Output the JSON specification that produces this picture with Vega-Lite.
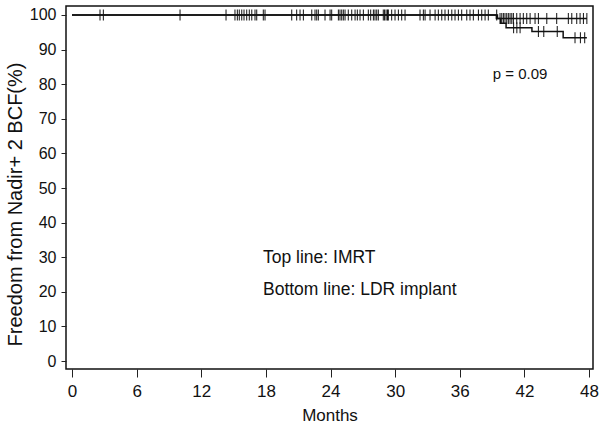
{
  "$schema": "https://vega.github.io/schema/vega-lite/v6.json",
  "width": 527,
  "height": 363,
  "autosize": {"type": "none"},
  "padding": {"left": 66, "top": 6, "right": 8, "bottom": 64},
  "background": "white",
  "config": {
    "view": {"stroke": "#111", "strokeWidth": 1.5},
    "font": "Liberation Sans",
    "axis": {"grid": false, "domain": false, "tickColor": "#222", "labelColor": "#111", "titleColor": "#111", "labelFont": "Liberation Sans", "titleFont": "Liberation Sans", "titleFontWeight": "normal", "labelOverlap": false}
  },
  "datasets": {
    "lines": [
      {"month": 0, "surv": 100, "group": "IMRT"},
      {"month": 39.5, "surv": 99.0, "group": "IMRT"},
      {"month": 47.8, "surv": 99.0, "group": "IMRT"},
      {"month": 0, "surv": 100, "group": "LDR implant"},
      {"month": 39.4, "surv": 99.0, "group": "LDR implant"},
      {"month": 39.8, "surv": 97.6, "group": "LDR implant"},
      {"month": 40.3, "surv": 96.3, "group": "LDR implant"},
      {"month": 42.7, "surv": 95.2, "group": "LDR implant"},
      {"month": 45.6, "surv": 93.4, "group": "LDR implant"},
      {"month": 47.8, "surv": 93.4, "group": "LDR implant"}
    ],
    "censor": [
      {"month": 2.60, "surv": 100}, {"month": 2.91, "surv": 100}, {"month": 10.03, "surv": 100}, {"month": 14.30, "surv": 100},
      {"month": 15.13, "surv": 100}, {"month": 15.35, "surv": 100}, {"month": 15.53, "surv": 100}, {"month": 15.76, "surv": 100},
      {"month": 15.97, "surv": 100}, {"month": 16.22, "surv": 100}, {"month": 16.46, "surv": 100}, {"month": 16.69, "surv": 100},
      {"month": 16.99, "surv": 100}, {"month": 17.15, "surv": 100}, {"month": 17.76, "surv": 100}, {"month": 17.92, "surv": 100},
      {"month": 20.40, "surv": 100}, {"month": 20.86, "surv": 100}, {"month": 21.17, "surv": 100}, {"month": 21.48, "surv": 100},
      {"month": 22.26, "surv": 100}, {"month": 22.56, "surv": 100}, {"month": 22.72, "surv": 100}, {"month": 22.87, "surv": 100},
      {"month": 23.49, "surv": 100}, {"month": 23.96, "surv": 100}, {"month": 24.11, "surv": 100}, {"month": 24.73, "surv": 100},
      {"month": 24.88, "surv": 100}, {"month": 25.04, "surv": 100}, {"month": 25.19, "surv": 100}, {"month": 25.35, "surv": 100},
      {"month": 25.65, "surv": 100}, {"month": 25.97, "surv": 100}, {"month": 26.28, "surv": 100}, {"month": 26.49, "surv": 100},
      {"month": 26.74, "surv": 100}, {"month": 27.05, "surv": 100}, {"month": 27.51, "surv": 100}, {"month": 27.73, "surv": 100},
      {"month": 27.98, "surv": 100}, {"month": 28.13, "surv": 100}, {"month": 28.29, "surv": 100}, {"month": 28.44, "surv": 100},
      {"month": 28.90, "surv": 100}, {"month": 29.02, "surv": 100}, {"month": 29.16, "surv": 100}, {"month": 29.29, "surv": 100},
      {"month": 29.37, "surv": 100}, {"month": 29.68, "surv": 100}, {"month": 29.99, "surv": 100}, {"month": 30.30, "surv": 100},
      {"month": 30.61, "surv": 100}, {"month": 30.92, "surv": 100}, {"month": 32.31, "surv": 100}, {"month": 32.62, "surv": 100},
      {"month": 32.78, "surv": 100}, {"month": 33.24, "surv": 100}, {"month": 33.71, "surv": 100}, {"month": 34.01, "surv": 100},
      {"month": 34.33, "surv": 100}, {"month": 34.63, "surv": 100}, {"month": 34.94, "surv": 100}, {"month": 35.26, "surv": 100},
      {"month": 35.56, "surv": 100}, {"month": 35.87, "surv": 100}, {"month": 36.18, "surv": 100}, {"month": 36.65, "surv": 100},
      {"month": 36.95, "surv": 100}, {"month": 37.26, "surv": 100}, {"month": 37.73, "surv": 100}, {"month": 38.04, "surv": 100},
      {"month": 38.35, "surv": 100}, {"month": 38.65, "surv": 100}, {"month": 39.43, "surv": 100},
      {"month": 39.74, "surv": 99.0}, {"month": 39.90, "surv": 99.0}, {"month": 40.05, "surv": 99.0}, {"month": 40.20, "surv": 99.0},
      {"month": 40.36, "surv": 99.0}, {"month": 40.51, "surv": 99.0}, {"month": 40.67, "surv": 99.0}, {"month": 40.83, "surv": 99.0},
      {"month": 40.98, "surv": 99.0}, {"month": 41.29, "surv": 99.0}, {"month": 41.60, "surv": 99.0}, {"month": 41.90, "surv": 99.0},
      {"month": 42.22, "surv": 99.0}, {"month": 42.53, "surv": 99.0}, {"month": 42.99, "surv": 99.0}, {"month": 43.30, "surv": 99.0},
      {"month": 44.08, "surv": 99.0}, {"month": 45.00, "surv": 99.0}, {"month": 46.08, "surv": 99.0}, {"month": 46.40, "surv": 99.0},
      {"month": 46.86, "surv": 99.0}, {"month": 47.17, "surv": 99.0}, {"month": 47.48, "surv": 99.0}, {"month": 47.80, "surv": 99.0},
      {"month": 41.0, "surv": 96.3}, {"month": 41.3, "surv": 96.3}, {"month": 41.6, "surv": 96.3},
      {"month": 43.3, "surv": 95.2}, {"month": 43.8, "surv": 95.2}, {"month": 45.05, "surv": 95.2},
      {"month": 46.7, "surv": 93.4}, {"month": 47.2, "surv": 93.4}, {"month": 47.6, "surv": 93.4}
    ],
    "notes": [
      {"month": 17.73, "surv": 28.3, "text": "Top line: IMRT", "size": 17.5},
      {"month": 17.73, "surv": 19.1, "text": "Bottom line: LDR implant", "size": 17.5},
      {"month": 39.06, "surv": 81.5, "text": "p = 0.09", "size": 15}
    ]
  },
  "encoding": {
    "x": {
      "field": "month", "type": "quantitative",
      "scale": {"domain": [-0.557, 48.37], "nice": false, "zero": false},
      "axis": {"values": [0, 6, 12, 18, 24, 30, 36, 42, 48], "title": "Months", "labelFontSize": 17, "titleFontSize": 17, "tickSize": 8, "labelPadding": 6, "titleY": 51, "titleBaseline": "alphabetic"}
    },
    "y": {
      "field": "surv", "type": "quantitative",
      "scale": {"domain": [-2.31, 102.6], "nice": false, "zero": false},
      "axis": {"values": [0, 10, 20, 30, 40, 50, 60, 70, 80, 90, 100], "tickCount": 11, "title": "Freedom  from  Nadir+ 2 BCF(%)", "labelFontSize": 16, "titleFontSize": 20, "tickSize": 5, "labelPadding": 5, "titleAngle": -90, "titleX": -45, "titleY": 198, "titleAlign": "center", "titleBaseline": "alphabetic"}
    }
  },
  "layer": [
    {
      "data": {"name": "lines"},
      "mark": {"type": "line", "interpolate": "step-after", "color": "#111", "strokeWidth": 1.5},
      "encoding": {"detail": {"field": "group"}}
    },
    {
      "data": {"name": "censor"},
      "mark": {"type": "tick", "orient": "vertical", "color": "#111", "size": 11, "thickness": 1, "opacity": 1},
      "encoding": {}
    },
    {
      "data": {"name": "notes"},
      "mark": {"type": "text", "align": "left", "baseline": "alphabetic", "color": "#111", "font": "Liberation Sans"},
      "encoding": {
        "text": {"field": "text"},
        "size": {"field": "size", "type": "quantitative", "scale": null}
      }
    }
  ]
}
